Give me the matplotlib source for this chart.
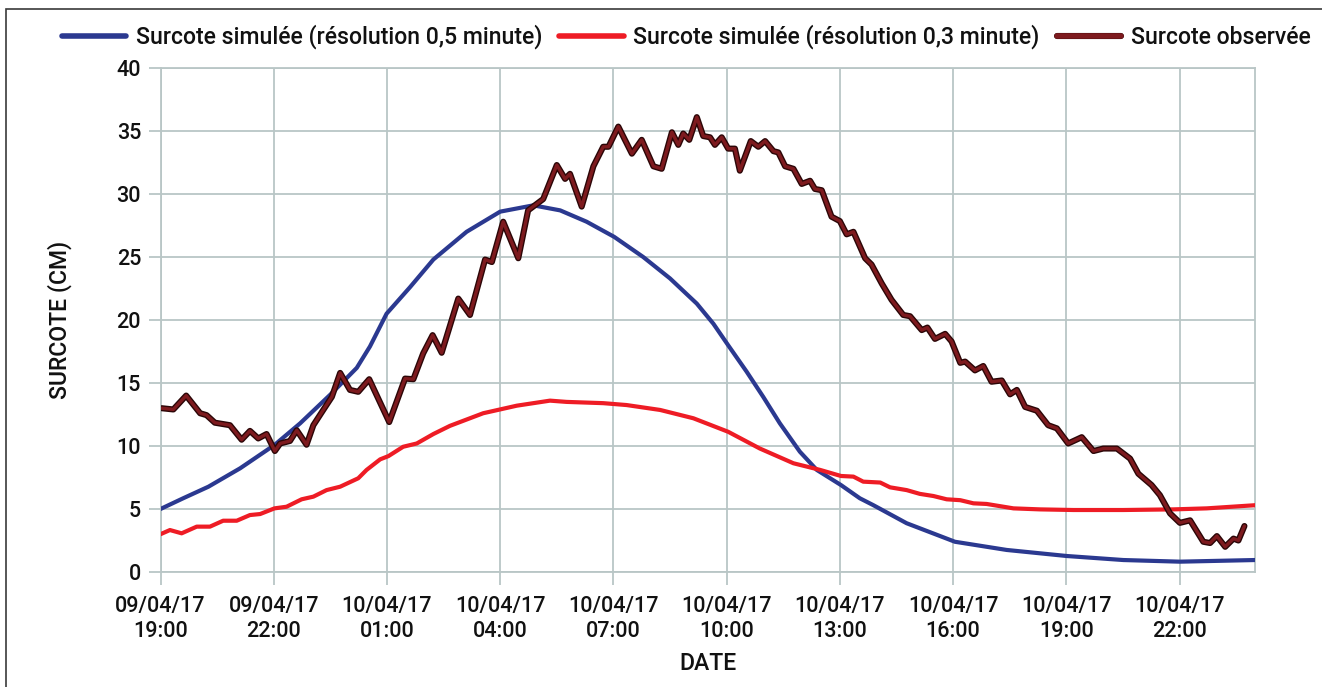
import matplotlib
matplotlib.use("Agg")
import matplotlib.pyplot as plt
import matplotlib.dates as mdates
import matplotlib.patheffects as pe
from matplotlib.patches import Rectangle
import pandas as pd

plt.rcParams['font.family'] = ['Roboto', 'DejaVu Sans']
plt.rcParams['font.weight'] = 500
plt.rcParams['axes.labelweight'] = 500

START = pd.Timestamp("2017-04-09 19:00")
END_HOURS = 29

# Surcote observée (hours after 09/04/17 19:00, cm)
obs_hours = [0.03, 0.34, 0.68, 1.05, 1.22, 1.44, 1.84, 2.15, 2.37, 2.59, 2.81, 3.03, 3.17, 3.43,
             3.61, 3.87, 4.05, 4.31, 4.54, 4.76, 5.02, 5.24, 5.53, 6.06, 6.48, 6.70, 6.96, 7.21,
             7.45, 7.89, 8.20, 8.60, 8.78, 9.08, 9.48, 9.74, 10.14, 10.50, 10.72, 10.85, 11.16,
             11.47, 11.73, 11.87, 12.13, 12.49, 12.75, 13.06, 13.28, 13.55, 13.72, 13.85, 14.01,
             14.21, 14.38, 14.56, 14.69, 14.87, 15.04, 15.22, 15.35, 15.64, 15.84, 16.02, 16.24,
             16.37, 16.55, 16.77, 16.99, 17.21, 17.34, 17.52, 17.78, 18.00, 18.18, 18.36, 18.67,
             18.84, 19.11, 19.37, 19.68, 19.86, 20.17, 20.32, 20.52, 20.79, 20.96, 21.19, 21.32,
             21.58, 21.80, 22.02, 22.29, 22.51, 22.69, 22.91, 23.22, 23.52, 23.75, 24.05, 24.41,
             24.72, 24.98, 25.34, 25.69, 25.91, 26.26, 26.48, 26.75, 27.01, 27.28, 27.63, 27.81,
             27.99, 28.21, 28.43, 28.56, 28.72]
obs_values = [13.0, 12.9, 14.0, 12.6, 12.45, 11.85, 11.65, 10.5, 11.2, 10.6, 10.95, 9.6, 10.2, 10.4,
              11.25, 10.1, 11.65, 12.85, 13.9, 15.8, 14.45, 14.3, 15.3, 11.9, 15.35, 15.3, 17.35, 18.8,
              17.4, 21.7, 20.4, 24.8, 24.6, 27.8, 24.9, 28.7, 29.6, 32.3, 31.2, 31.6, 29.0,
              32.2, 33.75, 33.75, 35.35, 33.2, 34.3, 32.2, 32.0, 34.9, 33.9, 34.8, 34.3,
              36.1, 34.6, 34.5, 33.9, 34.5, 33.6, 33.6, 31.85, 34.2, 33.75, 34.2, 33.4,
              33.3, 32.2, 32.0, 30.8, 31.05, 30.4, 30.3, 28.2, 27.85, 26.8, 27.0, 24.9,
              24.4, 22.9, 21.6, 20.4, 20.3, 19.2, 19.4, 18.5, 18.9, 18.3, 16.6, 16.7,
              16.0, 16.35, 15.1, 15.2, 14.1, 14.45, 13.1, 12.8, 11.65, 11.4, 10.2, 10.7,
              9.6, 9.8, 9.8, 9.0, 7.8, 6.9, 6.1, 4.65, 3.9, 4.1, 2.4, 2.3,
              2.85, 2.0, 2.65, 2.5, 3.65]

# Surcote simulée (résolution 0,5 minute)
sim05_hours = [0.0, 0.60, 1.27, 2.11, 3.02, 3.70, 4.49, 5.20, 5.55, 5.99, 6.61, 7.23, 8.11, 9.00,
               9.88, 10.59, 11.29, 12.02, 12.79, 13.50, 14.21, 14.65, 15.04, 15.53, 15.97, 16.41,
               16.94, 17.39, 18.03, 18.53, 18.89, 19.77, 21.05, 22.42, 24.01, 25.51, 27.01, 29.0]
sim05_values = [5.0, 5.85, 6.77, 8.23, 10.08, 11.8, 14.05, 16.2, 17.9, 20.5, 22.6, 24.8, 27.0, 28.6,
                29.1, 28.7, 27.8, 26.6, 25.0, 23.3, 21.3, 19.7, 18.0, 15.9, 13.9, 11.8,
                9.55, 8.1, 6.9, 5.85, 5.3, 3.87, 2.4, 1.75, 1.27, 0.95, 0.82, 0.95]

# Surcote simulée (résolution 0,3 minute)
sim03_hours = [0.0, 0.25, 0.56, 0.96, 1.31, 1.66, 2.02, 2.37, 2.64, 3.02, 3.34, 3.74, 4.05, 4.40,
               4.76, 5.24, 5.46, 5.82, 6.04, 6.43, 6.79, 7.23, 7.67, 8.55, 9.44, 10.32, 10.76,
               11.73, 12.35, 13.24, 14.12, 15.04, 15.88, 16.77, 17.48, 18.03, 18.36, 18.62, 19.07,
               19.33, 19.77, 20.12, 20.48, 20.83, 21.19, 21.54, 21.89, 22.6, 23.3, 24.19, 25.51,
               26.84, 27.72, 29.0]
sim03_values = [3.0, 3.33, 3.07, 3.6, 3.6, 4.07, 4.07, 4.52, 4.6, 5.05, 5.18, 5.77, 5.98, 6.5,
                6.77, 7.44, 8.1, 8.94, 9.2, 9.94, 10.2, 10.95, 11.6, 12.6, 13.2, 13.6, 13.5,
                13.4, 13.25, 12.86, 12.2, 11.13, 9.8, 8.63, 8.1, 7.62, 7.57, 7.17, 7.1,
                6.72, 6.5, 6.2, 6.03, 5.77, 5.7, 5.45, 5.4, 5.05, 4.97, 4.92, 4.92,
                4.97, 5.05, 5.3]

labels = ["Surcote simulée (résolution 0,5 minute)",
          "Surcote simulée (résolution 0,3 minute)",
          "Surcote observée"]
y_ticks = [0, 5, 10, 15, 20, 25, 30, 35, 40]

def to_time(hours):
    return [START + pd.Timedelta(hours=h) for h in hours]

BLUE = "#2b3990"
RED = "#ee1c25"
DARKRED = "#7d1a1e"
GRID = "#b9c6c6"
TXT = "#111111"
FS_TICK = 15.5
FS_LEG = 16.6

fig = plt.figure(figsize=(13.22, 6.87), dpi=100)
ax = fig.add_axes([160.5 / 1322, 1 - 572 / 687, (1255 - 160.5) / 1322, (572 - 68) / 687])

l1, = ax.plot(to_time(sim05_hours), sim05_values, color=BLUE, lw=3.0, solid_capstyle='round',
              solid_joinstyle='round', zorder=3)
l2, = ax.plot(to_time(sim03_hours), sim03_values, color=RED, lw=3.0, solid_capstyle='round',
              solid_joinstyle='round', zorder=3)
l3, = ax.plot(to_time(obs_hours), obs_values, color=DARKRED, lw=2.4, solid_capstyle='round',
              solid_joinstyle='round', zorder=4,
              path_effects=[pe.Stroke(linewidth=4.4, foreground="#2b0607"), pe.Normal()])

ax.set_xlim(START, START + pd.Timedelta(hours=END_HOURS))
ax.set_ylim(0, 40)
ax.set_yticks(y_ticks)
ax.xaxis.set_major_locator(mdates.HourLocator(byhour=[1, 4, 7, 10, 13, 16, 19, 22]))
ax.xaxis.set_major_formatter(mdates.DateFormatter('%d/%m/%y\n%H:%M'))

ax.grid(True, color=GRID, lw=1.3, zorder=0)
ax.set_axisbelow(True)
for s in ax.spines.values():
    s.set_color(GRID)
    s.set_linewidth(1.3)
ax.tick_params(axis='both', colors=GRID, length=9, width=1.3, labelcolor=TXT, labelsize=FS_TICK)
ax.tick_params(axis='x', pad=8)
ax.tick_params(axis='y', pad=5)
fig.canvas.draw()
for lab in ax.get_xticklabels():
    lab.set_linespacing(1.3)

ax.set_ylabel("SURCOTE (CM)", fontsize=FS_LEG, color=TXT, va='center')
ax.yaxis.set_label_coords((60 - 160.5) / 1094.5, 0.5)
ax.set_xlabel("DATE", fontsize=FS_LEG, color=TXT, va='center')
ax.xaxis.set_label_coords(0.5, (572 - 663) / 504)

leg = fig.legend([l1, l2, l3], labels, loc='center', bbox_to_anchor=(686 / 1322, 1 - 37 / 687), ncol=3,
                 frameon=False, fontsize=FS_LEG, handlelength=2.8, handletextpad=0.4,
                 columnspacing=0.75, labelcolor=TXT)
for h in leg.get_lines():
    h.set_linewidth(4.0)

fig.patches.append(Rectangle((6 / 1322, -0.05), 1.1, 1 - 9 / 687 + 0.05, transform=fig.transFigure,
                             fill=False, edgecolor="#3a3a3a", lw=1.2, zorder=10))

fig.savefig("out.png", dpi=100, facecolor="white")
